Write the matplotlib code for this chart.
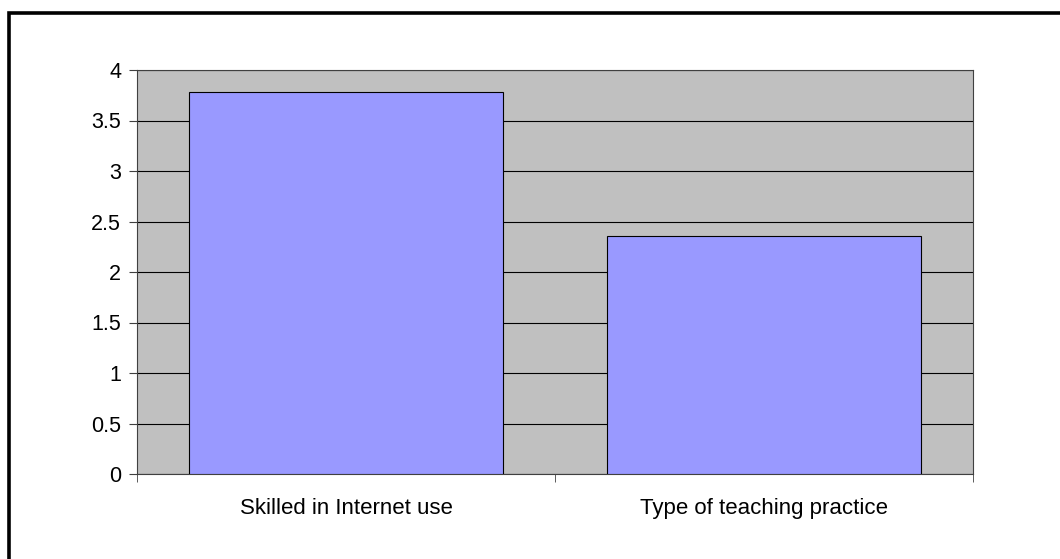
import matplotlib
matplotlib.use("Agg")
import matplotlib.pyplot as plt
from matplotlib.lines import Line2D
import numpy as np

categories = ["Skilled in Internet use", "Type of teaching practice"]
values = [3.78, 2.36]
y_ticks = [0, 0.5, 1, 1.5, 2, 2.5, 3, 3.5, 4]
y_labels = ["0", "0.5", "1", "1.5", "2", "2.5", "3", "3.5", "4"]

W, H = 1060, 559
fig = plt.figure(figsize=(W / 100, H / 100), dpi=100)
plt.rcParams["font.family"] = ["Liberation Sans", "DejaVu Sans"]

# frame: only top and left edges are visible in the source
fig.lines.append(Line2D([8.5 / W, 8.5 / W, 1.0], [0.0, 1 - 12.5 / H, 1 - 12.5 / H],
                        transform=fig.transFigure, color="black", linewidth=2.6,
                        solid_joinstyle="miter"))

ax = fig.add_axes([137 / W, 1 - 474 / H, (973 - 137) / W, (474 - 70) / H])
ax.set_facecolor("#c0c0c0")

x = np.arange(len(categories))
ax.bar(x, values, width=0.75, color="#9999ff", edgecolor="black", linewidth=0.8, zorder=3)

ax.set_xlim(-0.5, len(categories) - 0.5)
ax.set_ylim(0, 4)
ax.set_yticks(y_ticks)
ax.set_yticklabels(y_labels, fontsize=15.5)
ax.yaxis.grid(True, color="black", linewidth=0.8, zorder=1)
ax.set_axisbelow(True)

ax.set_xticks(x)
ax.set_xticklabels(categories, fontsize=16)
ax.tick_params(axis="x", which="major", length=0, pad=17)
ax.set_xticks(np.arange(-0.5, len(categories), 1.0), minor=True)
ax.tick_params(axis="x", which="minor", length=6, color="#404040")
ax.tick_params(axis="y", length=5.5, color="#404040", pad=6)

for side in ["top", "right", "bottom", "left"]:
    ax.spines[side].set_color("#404040")
    ax.spines[side].set_linewidth(0.8)

fig.savefig("out.png", dpi=100)
